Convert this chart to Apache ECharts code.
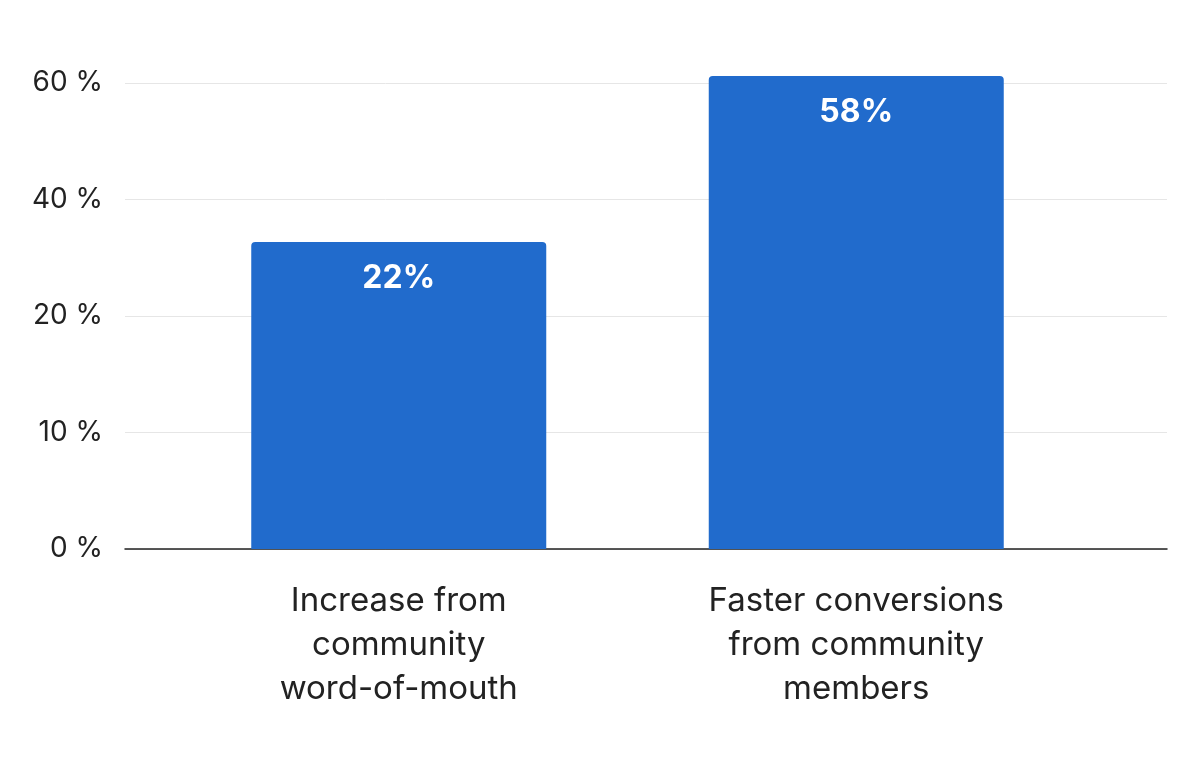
<!DOCTYPE html>
<html><head><meta charset="utf-8">
<script src="https://cdn.jsdelivr.net/npm/echarts@6/dist/echarts.min.js"></script>
<style>html,body{margin:0;background:#fff}#c{width:1195px;height:782px}</style>
</head><body><div id="c"></div>
<script>
const categories = ["Increase from\ncommunity\nword-of-mouth", "Faster conversions\nfrom community\nmembers"];
const valueLabels = ["22%", "58%"];
// bar heights as drawn, in units of evenly spaced tick steps
const barHeights = [2.635, 4.06];
const tickLabels = ["0%", "10%", "20%", "40%", "60%"];
const chart = echarts.init(document.getElementById('c'));
chart.setOption({
  animation: false,
  grid: [{left: 125, right: 28, top: 83, bottom: 233},
         {left: 170, right: 110, top: 83, bottom: 233}],
  xAxis: [{type: 'category', gridIndex: 0, data: ['', ''],
    axisLine: {lineStyle: {color: '#222', width: 1.5}}, axisTick: {show: false}, axisLabel: {show: false}},
    {type: 'category', gridIndex: 1, data: categories,
    axisLine: {show: false}, axisTick: {show: false},
    axisLabel: {color: '#222', fontSize: 33, lineHeight: 44, margin: 30, fontFamily: 'Inter'}}],
  yAxis: [{type: 'value', gridIndex: 0, min: 0, max: 4, interval: 1,
    splitLine: {lineStyle: {color: '#e6e6e6'}},
    axisLabel: {color: '#222', fontSize: 28, margin: 22, fontFamily: 'Inter',
      formatter: v => tickLabels[Math.round(v)].replace('%', ' %')}},
    {type: 'value', gridIndex: 1, min: 0, max: 4, interval: 1,
    splitLine: {show: false}, axisLabel: {show: false}}],
  series: [{type: 'bar', xAxisIndex: 1, yAxisIndex: 1, clip: false, barWidth: 295,
    data: barHeights,
    itemStyle: {color: '#216bcc', borderRadius: [4, 4, 0, 0]},
    label: {show: true, position: 'insideTop', distance: 20, color: '#fff', fontSize: 32,
      fontWeight: 'bold', fontFamily: 'Inter', formatter: p => valueLabels[p.dataIndex]}}]
});
</script></body></html>
